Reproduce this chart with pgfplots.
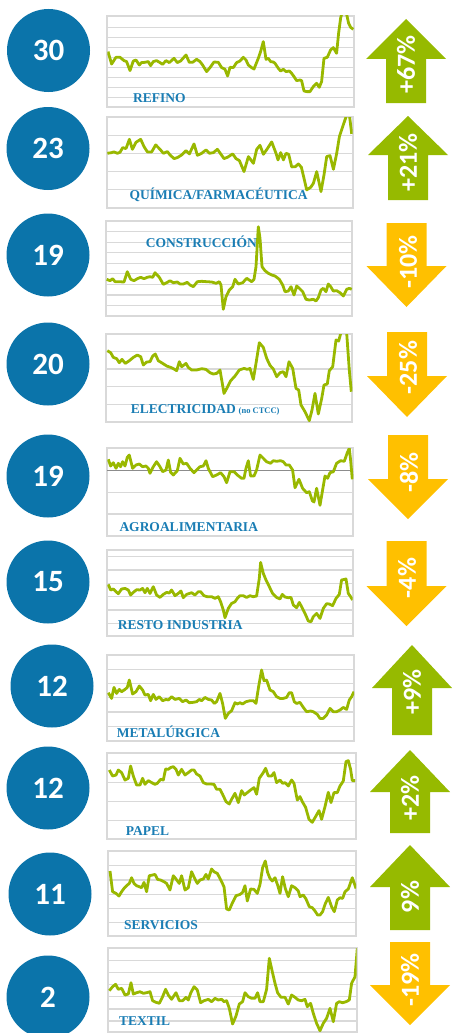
\documentclass[border=0pt]{standalone}
\usepackage{pgfplots}
\pgfplotsset{compat=1.18}
\usepackage{fontspec}
\newfontfamily\carlito{Carlito}
\newfontfamily\lserif{Liberation Serif}
\definecolor{gridgray}{HTML}{D9D9D9}
\definecolor{darkgrid}{HTML}{8C8C8C}
\definecolor{linecol}{HTML}{99B800}
\definecolor{circblue}{HTML}{0B74AA}
\definecolor{labblue}{HTML}{1A7DB4}
\definecolor{upgreen}{HTML}{96BA00}
\definecolor{downorange}{HTML}{FFC000}
\pgfplotsset{spark/.style={scale only axis, anchor=north west, xmin=0, ymin=0,
  axis line style={draw=gridgray, line width=2pt},
  xtick=\empty, yticklabels={}, ymajorgrids, major tick length=0pt,
  grid style={draw=gridgray, line width=1.3pt}},
  spl/.style={draw=linecol, line width=2.8pt, line join=round, mark=none}}
\newcommand{\arrowup}[5]{\fill[#5] (#1pt-40pt,-#3pt) -- (#1pt,-#2pt) -- (#1pt+40pt,-#3pt) -- (#1pt+20pt,-#3pt) -- (#1pt+20pt,-#4pt) -- (#1pt-20pt,-#4pt) -- (#1pt-20pt,-#3pt) -- cycle;}
\newcommand{\arrowtxt}[3]{\node[rotate=90, text=white, inner sep=0pt, font=\carlito\bfseries\fontsize{26}{26}\selectfont] at (#1pt,-#2pt) {#3};}
\newcommand{\bubble}[3]{\fill[circblue] (#1pt,-#2pt) circle (41.5pt); \node[text=white, inner sep=0pt, font=\carlito\bfseries\fontsize{31}{31}\selectfont] at (#1pt,-#2pt) {#3};}
\newcommand{\lab}[3]{\node[anchor=base west, inner sep=0pt, text=labblue, font=\lserif\bfseries\fontsize{13.5}{13.5}\selectfont] at (#1pt,-#2pt) {#3};}
\begin{document}
\begin{tikzpicture}
\path[use as bounding box] (0,0) rectangle (453pt,-1033pt);
% Panel 1 REFINO
\begin{axis}[spark, at={(107.3pt,-16pt)}, width=246.7pt, height=91.3pt, xmax=246.7, ymax=91.3, ytick={10,20,...,80}]
\addplot[spl] coordinates {(0.7,55.7)(4.3,43.3)(8.7,50)(12.7,50)(16.7,46.7)(19.3,45.7)(22.7,36.7)(26,46.3)(28.7,47.3)(32,42.3)(34.3,44.7)(37.7,45)(41,45.7)(43.3,41.7)(46,45.7)(49.3,46.7)(52.7,44.7)(55.3,43)(58.7,46.7)(62,44.7)(66.7,49)(70,44.7)(73.3,46.3)(78.7,52.3)(82,45)(85.3,45)(89.3,48)(92.7,45.7)(95.3,42.3)(99.3,35.7)(102.7,39.7)(106.7,45.3)(111,45)(114.3,39.7)(117.7,38)(120.3,31.3)(122.7,40)(126,39.7)(129.3,44.7)(132.7,46.3)(136,50)(138.7,47.3)(141,42.3)(144.3,39.7)(146.7,38.3)(151,49)(153.3,55.7)(156,65.7)(158.7,48)(161,49)(163.3,45.7)(166,45.3)(167.7,44)(171,39)(173.3,36.3)(176,38)(178.7,35.7)(182,36.3)(184.3,34)(186.7,30.7)(189.3,26.7)(192.7,27.3)(194.3,26.7)(196.7,16.3)(199.3,15.7)(202.7,15.7)(206,20.7)(209.3,24)(212,20)(214.3,25.7)(216.7,49)(220,50)(223.3,57.3)(226,59.7)(229.3,54)(231.3,74)(233.3,89)(237,104)(241.3,84)(243.3,80)(246,78)};
\end{axis}
% Panel 2 QUIMICA
\begin{axis}[spark, at={(106.7pt,-117.3pt)}, width=246pt, height=90.3pt, xmax=246, ymax=90.3, ytick={18.06,36.12,54.18,72.24}]
\addplot[spl] coordinates {(0.7,54.3)(5,55)(7.3,55.7)(10.7,54.3)(13.3,55.3)(16,60)(19.3,59)(22.7,68.3)(25.7,58.3)(29.3,65.3)(34,68.3)(37.3,61)(40.7,55.7)(45,55.7)(49,62.7)(53.3,58.3)(56.7,54.3)(60.7,56)(63.3,52.7)(67.3,49)(70.7,50)(75,52.7)(79.3,57)(82.7,53.7)(87.3,63.7)(90.7,52.3)(95,54.3)(99.3,57.7)(102.7,54.3)(106.7,55)(110.7,58.3)(114,53.7)(117.3,49)(120.7,50.3)(126,53.7)(129.3,49)(132.7,47)(137.3,36)(141.7,51)(146.7,44.3)(150,58.3)(153.3,62.3)(156.7,53.3)(160.7,59)(165,65.7)(169.3,54.3)(171.3,47.7)(174,55)(176.7,47.7)(179.3,54.3)(182,53.3)(185,40.7)(188.7,41)(191.7,43.7)(194.7,40.3)(197.3,29.3)(200,17.7)(204,20.3)(206.7,24.3)(210,36)(214.3,16)(217.3,32.7)(220,51)(223.3,52)(226.7,38.3)(230,54.3)(232.7,71)(236,81)(240,92.7)(242.7,92.7)(245,73.7)};
\end{axis}
% Panel 3 CONSTRUCCION
\begin{axis}[spark, at={(106pt,-221pt)}, width=246.3pt, height=95pt, xmax=246.3, ymax=95, ytick={10.55,21.1,31.65,42.2,52.75,63.3,73.85,84.4}]
\addplot[spl] coordinates {(0.7,36.7)(4,35.3)(6.7,37.3)(9,34.3)(13.3,34.3)(18,34)(21.3,44.3)(24.7,36.7)(28,35.3)(31.3,37.3)(34.7,38.7)(38,37.3)(41.3,38.7)(44,39.3)(46.7,38.7)(49,43.3)(53.3,38.7)(57.3,31.7)(60.7,33.3)(64,35.3)(67.3,33.3)(71.3,34)(74,32)(77.3,32)(81.3,33.7)(84,31)(87.3,29.3)(91.3,34.3)(95.7,34.7)(100.7,34.3)(105.7,34)(110,32.7)(113.3,34.3)(115,31)(117.3,6.7)(120,19.3)(123.3,26)(126.7,29.3)(129,36.7)(132.3,32)(136.7,33.3)(140.7,37.7)(145.7,34.3)(148,36.7)(150,49.3)(152.3,89.3)(154,77.7)(156,49.3)(159,45.3)(162.3,42.7)(165.7,41)(169,40)(173.3,36.7)(176.7,31)(179,24.3)(182.3,25)(185,29.3)(188,21)(190.7,30)(193.3,27.7)(196.7,24.3)(200,16.7)(203.3,16)(207.3,16.7)(210,15)(212.3,18.3)(215,26)(217.3,27.7)(220,24.3)(222.3,32)(224.7,29.3)(227.3,25)(230.7,25.3)(234,23.3)(237.3,20)(240.7,26.7)(243.3,27.7)(245.7,26.7)};
\end{axis}
% Panel 4 ELECTRICIDAD
\begin{axis}[spark, at={(106pt,-334pt)}, width=246.3pt, height=87.7pt, xmax=246.3, ymax=87.7, ytick={17.5,35,52.6,70.2}]
\addplot[spl] coordinates {(1.3,71)(4.7,69)(7.3,64.3)(10.7,63)(13.3,59)(16,62.3)(19.3,58.3)(23.3,61)(27.3,64.3)(31.3,66.7)(34.7,65)(37.3,56.7)(40.7,59.7)(44,60)(46.7,65.7)(49.3,67.7)(52.3,61)(56.7,58.3)(60.7,55.7)(64.7,54.3)(68,52.7)(70.7,51)(73.3,60)(75.7,55)(80,58.3)(82.3,54.3)(85.7,51.7)(90.7,51.7)(95.7,53)(100,52.3)(104,49)(107.3,47.7)(110.7,48.3)(114,51.7)(118,28.3)(121.3,34.3)(124.7,41)(129,45.7)(133.3,51.7)(138,53.3)(141.3,52.3)(144,53.3)(147.3,42.3)(150,58.3)(153.3,79)(157.3,74.3)(160.7,63.3)(164,56.3)(167.3,52.7)(170.7,45)(174,49)(177.3,50)(180,45)(183,60)(186.7,53.3)(190,33.3)(192.7,31.7)(195,16.7)(199,10)(203.3,1)(206,11.7)(209,28.3)(212.3,7.7)(215.7,23.3)(218,36.7)(221.3,37.7)(223.3,51)(226.7,55)(230,81.7)(232.7,80.7)(234.7,88.3)(237.7,96.7)(240.7,88.3)(243.3,51.7)(245.3,30)};
\end{axis}
% Panel 5 AGROALIMENTARIA
\begin{axis}[spark, at={(107.3pt,-448.3pt)}, width=246pt, height=87.7pt, xmax=246, ymax=87.7, ytick={21.9,43.8}, extra y ticks={65.7}, extra y tick labels={}, extra y tick style={grid style={draw=darkgrid, line width=1.3pt}}]
\addplot[spl] coordinates {(1,76.7)(3.3,70)(6,73.3)(8.7,67.7)(11,72.7)(13.3,69.3)(15.3,74.3)(17.7,70)(20,78.7)(22,81)(25.3,67.7)(28.7,71)(32,72)(35.3,69.3)(38.7,70)(41,67.7)(42.7,62.7)(46,69.3)(49.3,74.3)(52.7,69.3)(55.3,64.3)(58.7,66)(61,76)(63.3,63.7)(66,61)(70,65.3)(72.7,77.7)(76,72)(79.3,72.7)(82.7,67.7)(86.7,63.3)(89.3,66)(92.7,69.3)(96,70)(98.7,75.3)(101,67.7)(105.3,59.3)(109.3,61)(113.3,63.3)(116.7,59.3)(119.3,53.3)(122.7,64.3)(126.7,64.3)(130,61)(134.3,57.7)(136.7,57.7)(138.7,67.7)(141,75.3)(143.3,60)(146.7,60)(149.3,66)(152.7,81)(156,77.7)(159.3,74.3)(163.3,72.7)(166,75.3)(169.3,74.7)(173.3,75.3)(176,74.3)(178.7,71)(182,71)(185.3,66)(187.7,48.3)(191.7,56.7)(195.3,47.7)(199.3,43.3)(202,44.3)(205,35.3)(206.7,34)(209.3,47.7)(212.7,30.7)(215.3,46)(217.7,60)(220.3,57.7)(222.7,63.3)(226,64.3)(229.3,72.7)(233.3,75.3)(237,74.7)(240,83.3)(242,87.7)(243.3,76)(245,56.7)};
\end{axis}
% Panel 6 RESTO INDUSTRIA
\begin{axis}[spark, at={(107.3pt,-550pt)}, width=245.3pt, height=85.7pt, xmax=245.3, ymax=85.7, ytick={12.3,25.7,39,52.3,65.7,79}]
\addplot[spl] coordinates {(1,51.3)(3.3,45.7)(6,46.7)(8.7,44)(11,42)(14.3,46.7)(17.7,47.3)(21,45.7)(23.3,40.7)(26,43.3)(29.3,46)(32.7,45.7)(35.3,47.3)(37.7,43)(40,47.3)(42.7,42.3)(46,49)(49.3,40.7)(52.7,38.3)(56,41.3)(59.3,43.3)(62,42.7)(64.3,45.7)(67.7,40)(71,42.3)(73.7,44.7)(76,38)(79.3,41.3)(84.3,43)(87.7,40.7)(91,44)(93.3,44)(96.7,40)(100,39)(104.3,39)(107.7,37.3)(111,39)(113.3,34)(116,25.7)(117.7,18)(121,27.3)(124.3,32.3)(127.7,34)(130,37.3)(132.7,40)(136,40)(139.3,38.3)(142.7,40)(146,39)(149.3,39.7)(152,57.3)(153.3,73.3)(156,62.3)(158.7,55.7)(162,49)(165.3,42.3)(169.3,38.3)(172.7,36.7)(175,41.3)(177.7,38.7)(181,38)(183.7,38.3)(186,30.7)(189.3,28)(192,33.3)(194.3,29)(197.7,22.3)(201,14.7)(203.7,14)(206,19)(209.3,22.3)(212.7,17.3)(216,27.3)(219.3,32)(222,31.7)(225.3,30)(228.7,37.3)(232,41.3)(234.3,55.7)(238.7,56.7)(241,42.3)(243.3,39)(245.3,35.7)};
\end{axis}
% Panel 7 METALURGICA
\begin{axis}[spark, at={(107.3pt,-655pt)}, width=246.7pt, height=85.7pt, xmax=246.7, ymax=85.7, ytick={14.3,28.6,42.9,57.1,71.4}]
\addplot[spl] coordinates {(1,48)(4.3,42.3)(6.7,53.3)(9.3,47.3)(12,51.3)(14.3,49)(17.7,51.3)(20,53.3)(22,60.7)(25.3,46.7)(28.7,49)(32,54.7)(35.3,50.7)(37.7,45.7)(41,46.3)(43.3,40)(46,46.3)(48.7,41.3)(52,44)(55.3,40)(58.7,41.3)(61,40.7)(64.3,44)(67.7,41.3)(72,42.3)(75.3,39)(78.7,40.7)(82,38)(85.3,38.3)(89.3,39)(92,41.3)(94.3,40)(97.7,43.3)(101,41.3)(104.3,40.7)(107,37.3)(109.3,39)(112.7,47.3)(115.3,37.3)(118,22.3)(121,27.3)(124.3,30)(127.7,38)(130,36.7)(132.7,38)(135.3,36.7)(138.7,39)(142.7,40)(146,40)(148.7,37.3)(151.3,54)(154.3,70.7)(156.7,60)(159.3,60.7)(162.7,50.7)(166,49)(169.3,44)(172.7,42.3)(176,42.3)(179.3,43.3)(182,48)(184.3,48)(187,39)(189.3,37.3)(192.7,38.3)(196,33.3)(199.3,29)(203.3,29.7)(206,29)(210,26.3)(212.7,22.3)(216,22.3)(219.3,25.7)(222.7,32.3)(226,29)(229.3,29)(232.7,30.7)(236,33.3)(239.3,31.3)(242,40.7)(244.3,44)(246.7,49)};
\end{axis}
% Panel 8 PAPEL
\begin{axis}[spark, at={(107.3pt,-753.3pt)}, width=248.7pt, height=86pt, xmax=248.7, ymax=86, ytick={19,38,57,76}]
\addplot[spl] coordinates {(2,69.3)(5.3,63.3)(8.7,64.3)(11,69.3)(14.3,66.7)(17.7,59.3)(21,61)(23.3,73.3)(26,63.3)(29.3,54.3)(32.7,54.3)(35.3,61)(37.7,55)(41,58.7)(44.3,56.7)(47.7,55)(50,56)(53.3,60)(56,59.3)(58.3,70.3)(61,70)(63.3,71.7)(66,72.7)(68.7,70)(71,64.3)(74.3,70)(77.7,64.3)(81,66.7)(84.3,69.3)(86.7,69.3)(89.3,65.3)(92.7,63.3)(96,56.7)(99.3,55.3)(103.3,55.3)(106.7,55)(109.3,50)(112.7,50)(115.3,45)(118.7,37.7)(122,35.3)(124.3,40)(127.7,46)(131,36.7)(134.3,48.7)(137,44.3)(140,46.7)(143.3,49.3)(146.7,51.7)(149.3,45)(152,61)(156,66.7)(158.3,71)(161,63.3)(164.3,63.3)(166.7,66.7)(169.3,56.7)(172.7,59.3)(175.3,56)(177.7,56.7)(181,53.3)(184.3,59.3)(186.7,56)(190,39.3)(192.7,42.7)(195,37.7)(198.3,32)(201.7,20)(205,17)(208.3,22.7)(211.7,28.7)(214.3,20)(217.7,32.7)(221,47)(223.7,36.7)(226.7,46.7)(230,46.7)(232.7,53.3)(236,58.3)(238.7,77.7)(241,78.7)(243.3,70)(245,58.7)(247.7,58.7)};
\end{axis}
% Panel 9 SERVICIOS
\begin{axis}[spark, at={(108.3pt,-851pt)}, width=247.7pt, height=84.7pt, xmax=247.7, ymax=84.7, ytick={13.3,27.3,41.3,55.7,70}]
\addplot[spl] coordinates {(1.7,64.7)(4.3,44)(7.7,42.3)(10.7,39.7)(13.3,44)(15.7,47.3)(18.3,50)(21,52.3)(23.3,58)(25.7,52.3)(28.3,50)(31,49)(33.3,48)(35.7,53.3)(38.3,44)(41,60)(44.3,60.7)(46.7,61.3)(49.3,56.3)(52.3,55.7)(55.7,54)(58.3,52.3)(61.7,45.7)(65,60)(67.7,56.7)(71,52.3)(73.3,60)(76.7,45.7)(80,48)(83.3,64)(86,58)(89,52.3)(91.7,55.7)(95,56.7)(97.7,61.3)(100,56.7)(103.3,66.7)(105.7,64)(109,62.3)(111.7,57.3)(115.7,49)(118.3,26.7)(121,25.7)(124.3,33.3)(127.7,40)(131.7,41.3)(134.3,43.3)(136.7,50)(139,34.7)(142.3,46.7)(145.7,46.3)(149,42.3)(151.7,51.3)(154.3,68)(157,74.7)(159.3,63.3)(161.7,57.3)(164,54.7)(166.7,58)(169.3,50.7)(171.7,42.3)(174.3,59)(177,47.3)(180,39)(183.3,50)(186.7,48)(190,44.7)(191.7,39)(195,40.7)(197.7,36.7)(201,29)(204,28)(206.7,24.7)(209.3,20.7)(211.7,20.7)(214.3,24)(216.7,31.3)(220,38.3)(223.3,29)(226,24)(229,35.7)(231.7,38)(234.3,37.3)(236.7,44)(240,46.7)(244,58)(247.7,47.3)};
\end{axis}
% Panel 10 TEXTIL
\begin{axis}[spark, at={(108.3pt,-948.3pt)}, width=248.3pt, height=83.7pt, xmax=248.3, ymax=83.7, ytick={11,23,35.3,47.7,59.3,71.3}]
\addplot[spl] coordinates {(1,41.3)(4.3,45.3)(7.3,47.7)(10,42.7)(13.3,43.7)(16.7,37)(20,38)(22.7,49.3)(25,38)(28.3,39.3)(31.7,40.3)(35,38.7)(38.3,39.3)(41.7,40.3)(44.3,31.3)(47.7,29.7)(51,28.7)(54.3,35.3)(57.3,42.7)(60,37)(63.3,32.7)(67.7,39.3)(71,31.3)(74.3,31.3)(77.7,34.7)(80,32)(82.3,38.7)(85.7,45.3)(89,42)(92.3,29.3)(95.7,31.3)(100,32.7)(103.3,30.3)(106.7,33.7)(110,32)(113.3,32.7)(115.7,30.3)(118.3,31.3)(121,23.7)(124.3,8)(127.7,16)(131,28)(134.3,30.3)(136.7,39.3)(140,35.3)(143.3,33.7)(146.7,33.7)(149.3,39.3)(151.7,30.3)(155,30.3)(158.3,42.7)(161,73.7)(164,60.3)(166.7,48.7)(169.3,39.3)(172.7,34.7)(176.7,34.7)(180,28)(183.3,37)(186.7,34.7)(190,32)(193.3,31.3)(196.7,32.7)(199,25.3)(202.3,28.7)(205,18.7)(208.3,8.7)(211.7,1.3)(215,8.7)(218.3,13.7)(221.7,23.7)(225,10.3)(228.3,28.7)(231,30.3)(234.3,29.3)(237.7,30.3)(241,32)(243.3,48.7)(246.7,55.3)(249,83.7)(250,92)};
\end{axis}
% labels
\lab{133}{102}{REFINO}
\lab{129.3}{199}{QUÍMICA/FARMACÉUTICA}
\lab{145.7}{247}{CONSTRUCCIÓN}
\lab{130.7}{413}{ELECTRICIDAD}
\node[anchor=base west, inner sep=0pt, text=labblue, font=\lserif\bfseries\fontsize{8.5}{8.5}\selectfont] at (238.5pt,-413pt) {(no CTCC)};
\lab{119.3}{531}{AGROALIMENTARIA}
\lab{117.7}{629}{RESTO INDUSTRIA}
\lab{116.7}{737}{METALÚRGICA}
\lab{125.7}{835}{PAPEL}
\lab{124}{929}{SERVICIOS}
\lab{119}{1025}{TEXTIL}
% bubbles
\bubble{48.5}{50.5}{30}
\bubble{48}{148.5}{23}
\bubble{48}{255}{19}
\bubble{48}{364}{20}
\bubble{48}{476}{19}
\bubble{48}{582}{15}
\bubble{52}{686}{12}
\bubble{48}{788}{12}
\bubble{50}{894}{11}
\bubble{48}{997}{2}
% arrows
\arrowup{406}{19}{59}{103}{upgreen}
\arrowtxt{406}{64.7}{+67\%}
\arrowup{408}{116}{155}{200}{upgreen}
\arrowtxt{408}{162.5}{+21\%}
\arrowup{406.5}{307}{266}{223}{downorange}
\arrowtxt{408}{262}{-10\%}
\arrowup{407}{417}{376}{332}{downorange}
\arrowtxt{408}{367.5}{-25\%}
\arrowup{408}{519}{479}{435}{downorange}
\arrowtxt{409}{472.5}{-8\%}
\arrowup{406.5}{626}{586}{541}{downorange}
\arrowtxt{407}{578}{-4\%}
\arrowup{412}{645}{688}{735}{upgreen}
\arrowtxt{412}{692}{+9\%}
\arrowup{410}{750}{792}{833}{upgreen}
\arrowtxt{410}{798}{+2\%}
\arrowup{410}{845}{887}{930}{upgreen}
\arrowtxt{410}{897}{9\%}
\arrowup{410}{1025}{985}{942}{downorange}
\arrowtxt{410}{980}{-19\%}
\end{tikzpicture}
\end{document}
